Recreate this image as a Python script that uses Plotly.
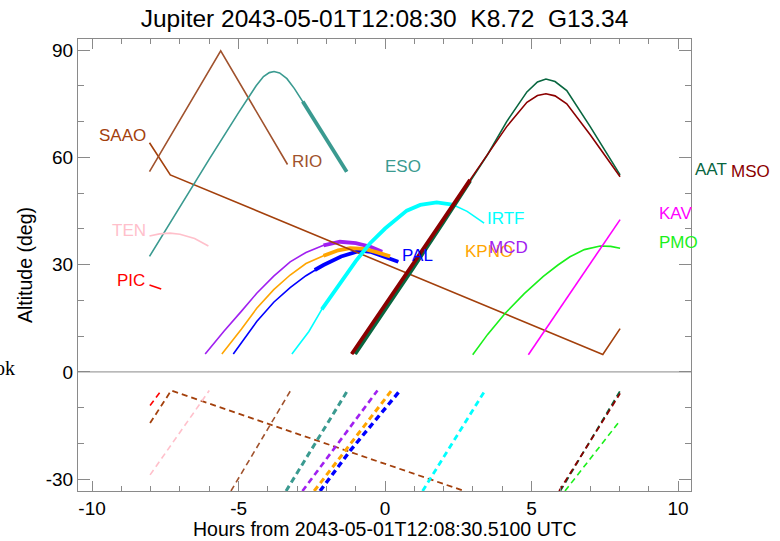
import plotly.graph_objects as go

# ---------------- data (hours from reference time, altitude in deg) ----------------
TITLE = "Jupiter 2043-05-01T12:08:30 \u00a0K8.72 \u00a0G13.34"
XTITLE = "Hours from 2043-05-01T12:08:30.5100 UTC"
YTITLE = "Altitude (deg)"

x_tick_vals = [-10, -5, 0, 5, 10]
x_tick_text = ["-10", "-5", "0", "5", "10"]
y_tick_vals = [-30, 0, 30, 60, 90]
y_tick_text = ["-30", "0", "30", "60", "90"]

# target altitude (upper part)
RIO_h = [-8.04, -5.61, -3.33]
RIO_alt = [56.0, 89.8, 58.0]

SAAO_h = [-8.04, -7.33, 7.43, 8.02]
SAAO_alt = [64.1, 55.1, 4.9, 12.1]

ESO_h = [-8.04, -7.0, -6.0, -5.0, -4.66, -4.4, -4.15, -3.95, -3.79, -3.6, -3.35, -3.1, -2.81, -2.5, -2.0, -1.31]
ESO_alt = [32.3, 46.2, 59.5, 72.5, 76.8, 80.0, 82.6, 83.7, 84.0, 83.6, 82.0, 79.3, 75.6, 71.6, 65.1, 56.0]

TEN_h = [-8.04, -7.7, -7.34, -7.0, -6.5, -6.03]
TEN_alt = [38.0, 38.6, 38.8, 38.5, 37.3, 35.2]

PIC_h = [-8.04, -7.64]
PIC_alt = [24.3, 23.2]

MCD_h = [-6.14, -5.5, -4.9, -4.38, -3.8, -3.24, -2.7, -2.1, -1.54, -1.0, -0.5, -0.1]
MCD_alt = [5.0, 11.4, 17.0, 22.0, 26.8, 30.8, 33.4, 35.4, 36.4, 36.0, 35.0, 33.6]

KPNO_h = [-5.57, -4.9, -4.38, -3.8, -3.24, -2.7, -2.1, -1.6, -1.19, -0.7, -0.3, 0.17]
KPNO_alt = [5.0, 12.0, 17.8, 23.0, 27.1, 30.3, 32.5, 34.0, 34.6, 34.4, 33.5, 32.3]

PAL_h = [-5.18, -4.8, -4.38, -3.8, -3.24, -2.7, -2.4, -2.1, -1.5, -0.85, -0.5, -0.17, 0.15, 0.45]
PAL_alt = [5.0, 9.4, 14.1, 19.5, 23.6, 26.9, 28.5, 29.9, 32.3, 33.9, 33.6, 32.7, 31.8, 30.8]

IRTF_h = [-3.18, -2.6, -2.16, -1.5, -1.0, -0.51, 0.0, 0.74, 1.2, 1.76, 2.3, 2.8, 3.38]
IRTF_alt = [5.0, 11.3, 17.5, 25.4, 31.0, 36.0, 40.1, 45.1, 46.7, 47.4, 46.8, 44.9, 41.6]

AAT_h = [-1.02, 0.0, 1.0, 2.0, 2.9, 3.5, 4.15, 4.84, 5.2, 5.49, 5.8, 6.2, 7.0, 8.02]
AAT_alt = [5.0, 17.3, 29.6, 42.0, 53.4, 60.8, 70.0, 78.3, 81.1, 81.9, 81.2, 78.7, 68.6, 55.1]

MSO_h = [-1.14, 0.0, 1.0, 2.0, 2.9, 3.36, 4.15, 4.84, 5.2, 5.49, 5.8, 6.2, 7.0, 8.02]
MSO_alt = [5.0, 18.6, 30.7, 42.8, 53.7, 59.2, 68.6, 75.4, 77.3, 77.8, 77.2, 75.0, 66.3, 54.6]

KAV_h = [4.89, 8.02]
KAV_alt = [4.8, 42.6]

PMO_h = [2.99, 3.5, 4.10, 4.75, 5.40, 5.9, 6.31, 6.8, 7.34, 7.7, 8.02]
PMO_alt = [4.8, 10.5, 16.4, 21.9, 26.7, 29.9, 32.2, 34.2, 35.2, 35.1, 34.6]

# sun altitude (lower part, dashed)
PIC_sun_h = [-8.02, -7.65]
PIC_sun_alt = [-9.4, -5.3]
SAAO_sun_h = [-8.02, -7.30, 2.70]
SAAO_sun_alt = [-14.3, -5.2, -33.3]
TEN_sun_h = [-8.02, -6.0]
TEN_sun_alt = [-28.8, -5.2]
RIO_sun_h = [-5.26, -3.21]
RIO_sun_alt = [-33.3, -5.0]
ESO_sun_h = [-3.38, -1.28]
ESO_sun_alt = [-33.3, -5.2]
MCD_sun_h = [-2.82, -0.26]
MCD_sun_alt = [-33.3, -5.2]
KPNO_sun_h = [-2.42, 0.22]
KPNO_sun_alt = [-33.3, -5.2]
PAL_sun_h = [-2.22, -1.19, 0.51]
PAL_sun_alt = [-33.3, -22.0, -5.2]
IRTF_sun_h = [1.28, 3.41]
IRTF_sun_alt = [-33.3, -5.2]
MSO_sun_h = [5.94, 8.02]
MSO_sun_alt = [-33.3, -6.0]
AAT_sun_h = [5.98, 8.02]
AAT_sun_alt = [-33.3, -5.3]
PMO_sun_h = [6.14, 8.02]
PMO_sun_alt = [-33.3, -13.6]

# station label positions (hours, altitude)
LABELS = ["SAAO", "RIO", "TEN", "PIC", "ESO", "IRTF", "PAL", "KPNO", "MCD", "KAV", "PMO"]
LABEL_h = [-8.08, -3.24, -8.08, -8.11, -0.07, 3.41, 0.51, 2.67, 3.47, 9.27, 9.27]
LABEL_alt = [66.1, 58.8, 39.5, 25.5, 57.4, 42.8, 32.5, 33.6, 34.9, 44.4, 36.1]

# ---------------- styles ----------------
COL = {
    "RIO": "#A0522D", "SAAO": "#A3400C", "ESO": "#3A9A90", "TEN": "#FFC0CB",
    "PIC": "#FF0000", "MCD": "#A020F0", "KPNO": "#FFA500", "PAL": "#0000FF",
    "IRTF": "#00FFFF", "AAT": "#08663F", "MSO": "#8B0000", "KAV": "#FF00FF",
    "PMO": "#1AF01A",
}
LABEL_ANCHOR = {"SAAO": "right", "TEN": "right", "PIC": "right"}
THIN, THICK = 1.6, 3.8
GRAY = "#8a8a8a"
FONT = "Liberation Sans, Arial, Helvetica, sans-serif"

fig = go.Figure()


def add(h, a, color, width, dash=None):
    fig.add_trace(go.Scatter(x=h, y=a, mode="lines",
                             line=dict(color=color, width=width, dash=dash),
                             hoverinfo="skip", showlegend=False))


DASH = "6px,4px"
# lower (sun) curves
add(PIC_sun_h, PIC_sun_alt, COL["PIC"], 1.6, DASH)
add(SAAO_sun_h, SAAO_sun_alt, COL["SAAO"], 1.8, DASH)
add(TEN_sun_h, TEN_sun_alt, COL["TEN"], 1.6, DASH)
add(RIO_sun_h, RIO_sun_alt, COL["RIO"], 1.6, DASH)
add(ESO_sun_h, ESO_sun_alt, COL["ESO"], 3.0, DASH)
add(MCD_sun_h, MCD_sun_alt, COL["MCD"], 2.6, DASH)
add(KPNO_sun_h, KPNO_sun_alt, COL["KPNO"], 3.0, DASH)
add(PAL_sun_h, PAL_sun_alt, COL["PAL"], 3.4, DASH)
add(IRTF_sun_h, IRTF_sun_alt, COL["IRTF"], 2.8, DASH)
add(AAT_sun_h, AAT_sun_alt, COL["AAT"], 1.8, DASH)
add(MSO_sun_h, MSO_sun_alt, COL["MSO"], 1.8, DASH)
add(PMO_sun_h, PMO_sun_alt, COL["PMO"], 1.6, DASH)

# upper (target) curves, thin full curves then thick observable parts
add(PAL_h, PAL_alt, COL["PAL"], THIN)
add(PAL_h[6:], PAL_alt[6:], COL["PAL"], THICK)
add(MCD_h, MCD_alt, COL["MCD"], THIN)
add(MCD_h[7:], MCD_alt[7:], COL["MCD"], THICK)
add(KPNO_h, KPNO_alt, COL["KPNO"], THIN)
add(KPNO_h[6:], KPNO_alt[6:], COL["KPNO"], THICK)
add(SAAO_h, SAAO_alt, COL["SAAO"], THIN)
add(RIO_h, RIO_alt, COL["RIO"], THIN)
add(ESO_h, ESO_alt, COL["ESO"], THIN)
add(ESO_h[12:], ESO_alt[12:], COL["ESO"], THICK)
add(TEN_h, TEN_alt, COL["TEN"], THIN)
add(PIC_h, PIC_alt, COL["PIC"], THIN)
add(IRTF_h, IRTF_alt, COL["IRTF"], THIN)
add(IRTF_h[2:11], IRTF_alt[2:11], COL["IRTF"], THICK)
add(AAT_h, AAT_alt, COL["AAT"], THIN)
add(AAT_h[:5], AAT_alt[:5], COL["AAT"], THICK)
add(MSO_h, MSO_alt, COL["MSO"], THIN)
add(MSO_h[:5], MSO_alt[:5], COL["MSO"], THICK)
add(PMO_h, PMO_alt, COL["PMO"], THIN)
add(KAV_h, KAV_alt, COL["KAV"], THIN)

annotations = []
for name, h, a in zip(LABELS, LABEL_h, LABEL_alt):
    annotations.append(dict(x=h, y=a, xref="x", yref="y", text=name, showarrow=False,
                            xanchor=LABEL_ANCHOR.get(name, "left"), yanchor="middle",
                            font=dict(family=FONT, size=17, color=COL[name])))
# labels placed beyond the right frame, anchored at curve end and shifted in pixels
annotations.append(dict(x=AAT_h[-1], y=AAT_alt[-1], xref="x", yref="y", text="AAT",
                        showarrow=False, xanchor="left", yanchor="middle", xshift=73, yshift=5,
                        font=dict(family=FONT, size=17, color=COL["AAT"])))
annotations.append(dict(x=MSO_h[-1], y=MSO_alt[-1], xref="x", yref="y", text="MSO",
                        showarrow=False, xanchor="left", yanchor="middle", xshift=109, yshift=5,
                        font=dict(family=FONT, size=17, color=COL["MSO"])))
# axis titles
annotations.append(dict(x=0.5, y=0, xref="paper", yref="paper", text=XTITLE, showarrow=False,
                        xanchor="center", yanchor="middle", yshift=-38,
                        font=dict(family=FONT, size=19.5, color="black")))
annotations.append(dict(x=0, y=0.5, xref="paper", yref="paper", text=YTITLE, showarrow=False,
                        xanchor="center", yanchor="middle", xshift=-53, textangle=-90,
                        font=dict(family=FONT, size=19.5, color="black")))
# clipped text at far left
annotations.append(dict(x=0, y=0, xref="paper", yref="paper", text="ok", showarrow=False,
                        xanchor="right", yanchor="middle", xshift=-61, yshift=123,
                        font=dict(family="Liberation Serif, serif", size=20, color="black")))

axis_common = dict(showgrid=False, zeroline=False, showline=True, mirror="ticks",
                   linecolor=GRAY, linewidth=1, ticks="inside", tickcolor=GRAY, tickwidth=1,
                   tickfont=dict(family=FONT, size=19, color="black"), tickmode="array")

fig.update_layout(
    width=780, height=541, autosize=False,
    margin=dict(l=78, r=89, t=39, b=50, pad=0),
    paper_bgcolor="white", plot_bgcolor="white",
    title=dict(text=TITLE, x=0.5, xref="paper", xanchor="center",
               y=1 - 18 / 541, yref="container", yanchor="middle",
               font=dict(family=FONT, size=24.5, color="black")),
    xaxis=dict(range=[-10.48, 10.44], tickvals=x_tick_vals, ticktext=x_tick_text, ticklen=10,
               minor=dict(dtick=1, ticks="inside", ticklen=5, tickcolor=GRAY, tickwidth=1),
               **axis_common),
    yaxis=dict(range=[-33.3, 93.1], tickvals=y_tick_vals, ticktext=y_tick_text, ticklen=12,
               minor=dict(dtick=10, ticks="inside", ticklen=6, tickcolor=GRAY, tickwidth=1),
               **axis_common),
    annotations=annotations,
    shapes=[dict(type="line", xref="paper", yref="y", x0=0, x1=1, y0=0, y1=0,
                 line=dict(color=GRAY, width=1))],
)

fig.write_html("out.html", config={"displayModeBar": False},
               post_script="document.body.style.margin='0';document.body.style.overflow='hidden';")
